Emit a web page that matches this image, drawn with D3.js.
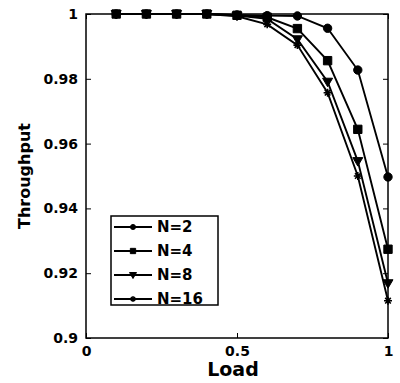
<!DOCTYPE html>
<html>
<head>
<meta charset="utf-8">
<script src="https://cdn.jsdelivr.net/npm/d3@7"></script>
<style>
  body { margin: 0; background: #fff; }
  text { font-family: "DejaVu Sans", sans-serif; font-weight: bold; }
</style>
</head>
<body>
<div id="chart"></div>
<script>
// Load values on the x axis
var loads = [0.1, 0.2, 0.3, 0.4, 0.5, 0.6, 0.7, 0.8, 0.9, 1.0];

// Throughput for each N
var n2  = [1, 1, 1, 1, 0.9997, 0.9995, 0.9994, 0.9956, 0.9827, 0.9497];
var n4  = [1, 1, 1, 1, 0.9996, 0.9990, 0.9955, 0.9856, 0.9644, 0.9274];
var n8  = [1, 1, 1, 1, 0.9995, 0.9985, 0.9922, 0.9791, 0.9546, 0.9169];
var n16 = [1, 1, 1, 1, 0.9993, 0.9968, 0.9904, 0.9757, 0.9500, 0.9115];

var seriesNames = ["N=2", "N=4", "N=8", "N=16"];
var xTicks = [0, 0.5, 1];
var yTicks = [0.9, 0.92, 0.94, 0.96, 0.98, 1];

var width = 400, height = 383;
var margin = { top: 14, right: 12, bottom: 45, left: 86 };

var svg = d3.select("#chart").append("svg")
    .attr("width", width)
    .attr("height", height);

var x = d3.scaleLinear().domain([0, 1]).range([margin.left, width - margin.right]);
var y = d3.scaleLinear().domain([0.9, 1]).range([height - margin.bottom, margin.top]);

// marker shapes, MATLAB style
var asterisk = function (s) {
    var d = s * 0.7;
    return `M${-s},0L${s},0M0,${-s}L0,${s}M${-d},${-d}L${d},${d}M${-d},${d}L${d},${-d}`;
};
var markers = [
    { path: d3.symbol().type(d3.symbolCircle).size(55)(), lpath: d3.symbol().type(d3.symbolCircle).size(20)(), fill: true },
    { path: d3.symbol().type(d3.symbolSquare).size(70)(), lpath: d3.symbol().type(d3.symbolSquare).size(28)(), fill: true },
    { path: "M-5,-3.5L5,-3.5L0,5Z", lpath: "M-3.5,-2.5L3.5,-2.5L0,3.5Z", fill: true },
    { path: asterisk(4), lpath: asterisk(3), fill: false }
];

var data = [n2, n4, n8, n16].map((vals, i) => ({
    name: seriesNames[i],
    marker: markers[i],
    points: vals.map((v, j) => ({ x: loads[j], y: v }))
}));

var line = d3.line().x(d => x(d.x)).y(d => y(d.y));

var plot = svg.append("g");
data.forEach(s => {
    plot.append("path")
        .attr("d", line(s.points))
        .attr("fill", "none")
        .attr("stroke", "#000")
        .attr("stroke-width", 1.9);
    plot.selectAll(null)
        .data(s.points)
        .join("path")
        .attr("transform", d => `translate(${x(d.x)},${y(d.y)})`)
        .attr("d", s.marker.path)
        .attr("fill", s.marker.fill ? "#000" : "none")
        .attr("stroke", "#000")
        .attr("stroke-width", s.marker.fill ? 1 : 1.6);
});

// axes with inward ticks, box around plot
var tickLen = 5;
svg.append("g")
    .attr("transform", `translate(0,${height - margin.bottom})`)
    .call(d3.axisBottom(x).tickValues(xTicks).tickSize(-tickLen).tickPadding(8).tickFormat(d3.format("")))
    .call(g => g.select(".domain").remove())
    .style("font-size", "14px");
svg.append("g")
    .attr("transform", `translate(0,${margin.top})`)
    .call(d3.axisTop(x).tickValues(xTicks).tickSize(-tickLen).tickFormat(""))
    .call(g => g.select(".domain").remove());
svg.append("g")
    .attr("transform", `translate(${margin.left},0)`)
    .call(d3.axisLeft(y).tickValues(yTicks).tickSize(-tickLen).tickPadding(8).tickFormat(d3.format("")))
    .call(g => g.select(".domain").remove())
    .style("font-size", "14px");
svg.append("g")
    .attr("transform", `translate(${width - margin.right},0)`)
    .call(d3.axisRight(y).tickValues(yTicks).tickSize(-tickLen).tickFormat(""))
    .call(g => g.select(".domain").remove());

svg.selectAll(".tick text").attr("fill", "#000").attr("font-weight", "bold")
    .attr("font-family", "DejaVu Sans, sans-serif");
svg.selectAll(".tick line").attr("stroke", "#000");

svg.append("rect")
    .attr("x", margin.left)
    .attr("y", margin.top)
    .attr("width", width - margin.left - margin.right)
    .attr("height", height - margin.top - margin.bottom)
    .attr("fill", "none")
    .attr("stroke", "#000")
    .attr("stroke-width", 1.5);

// axis titles
svg.append("text")
    .attr("x", x(0.5) - 4)
    .attr("y", 376)
    .attr("text-anchor", "middle")
    .attr("font-size", "19px")
    .text("Load");
svg.append("text")
    .attr("transform", `translate(30,${(margin.top + height - margin.bottom) / 2}) rotate(-90)`)
    .attr("text-anchor", "middle")
    .attr("font-size", "16px")
    .text("Throughput");

// legend
var lg = svg.append("g");
lg.append("rect")
    .attr("x", 111).attr("y", 216)
    .attr("width", 107).attr("height", 89)
    .attr("fill", "#fff")
    .attr("stroke", "#000")
    .attr("stroke-width", 1.5);
var rows = lg.selectAll("g")
    .data(data)
    .join("g")
    .attr("transform", (d, i) => `translate(0,${227 + i * 24})`);
rows.append("line")
    .attr("x1", 114).attr("x2", 152)
    .attr("stroke", "#000").attr("stroke-width", 1.8);
rows.append("path")
    .attr("transform", "translate(133,0)")
    .attr("d", d => d.marker.lpath)
    .attr("fill", d => d.marker.fill ? "#000" : "none")
    .attr("stroke", "#000")
    .attr("stroke-width", d => d.marker.fill ? 1 : 1.4);
rows.append("text")
    .attr("x", 157)
    .attr("dy", "0.36em")
    .attr("font-size", "15px")
    .text(d => d.name);
</script>
</body>
</html>
